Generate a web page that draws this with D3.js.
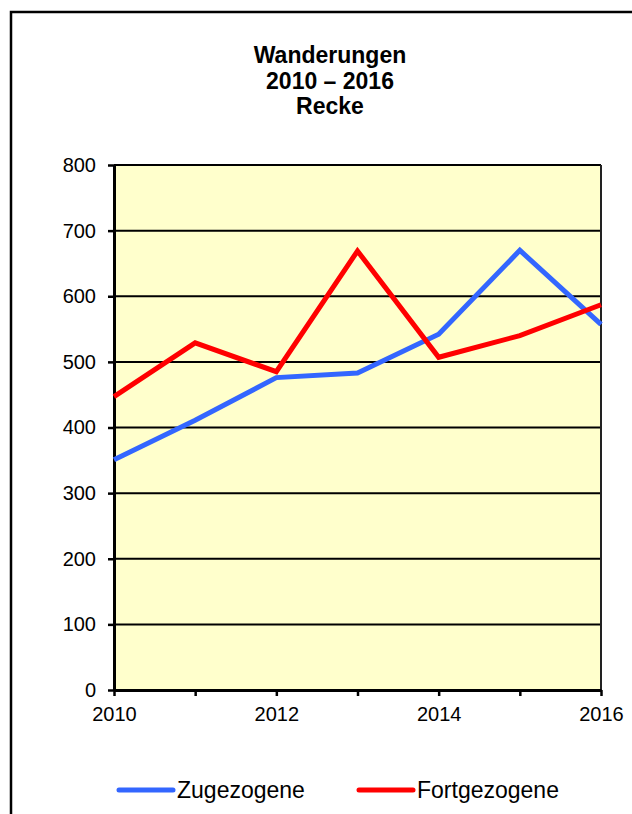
<!DOCTYPE html>
<html>
<head>
<meta charset="utf-8">
<script src="https://d3js.org/d3.v7.min.js"></script>
<style>
  body { margin: 0; background: #fff; }
  svg { display: block; font-family: Arial, "Liberation Sans", sans-serif; }
</style>
</head>
<body>
<svg id="chart" width="632" height="814"></svg>
<script>
    var years = [2010, 2011, 2012, 2013, 2014, 2015, 2016];
    var zugezogene = [351, 411, 476, 483, 542, 670, 557];
    var fortgezogene = [447, 529, 485, 669, 507, 540, 587];
    var yTicks = [0, 100, 200, 300, 400, 500, 600, 700, 800];
    var xLabels = [2010, 2012, 2014, 2016];
    var titleLines = ["Wanderungen", "2010 \u2013 2016", "Recke"];
    var seriesNames = ["Zugezogene", "Fortgezogene"];
    var seriesColors = ["#3366ff", "#ff0000"];

    var svg = d3.select("#chart");

    var plotLeft = 114, plotRight = 601, plotTop = 165, plotBottom = 690;

    var x = d3.scaleLinear().domain([2010, 2016]).range([plotLeft, plotRight]);
    var y = d3.scaleLinear().domain([0, 800]).range([plotBottom, plotTop]);

    // outer frame (runs off the picture at right and bottom)
    svg.append("rect")
      .attr("x", 11).attr("y", 12)
      .attr("width", 700).attr("height", 900)
      .attr("fill", "none")
      .attr("stroke", "#000")
      .attr("stroke-width", 2.5);

    // title
    svg.append("text")
      .attr("text-anchor", "middle")
      .attr("font-weight", "bold")
      .attr("font-size", 23)
      .selectAll("tspan")
      .data(titleLines)
      .enter().append("tspan")
      .attr("x", 330)
      .attr("y", function(d, i) { return 63 + i * 25.5; })
      .text(function(d) { return d; });

    // plot area
    svg.append("rect")
      .attr("x", plotLeft).attr("y", plotTop)
      .attr("width", plotRight - plotLeft).attr("height", plotBottom - plotTop)
      .attr("fill", "#ffffcc");

    // gridlines
    svg.append("g")
      .selectAll("line")
      .data(yTicks.slice(1))
      .enter().append("line")
      .attr("x1", plotLeft).attr("x2", plotRight)
      .attr("y1", function(d) { return y(d); })
      .attr("y2", function(d) { return y(d); })
      .attr("stroke", "#000")
      .attr("stroke-width", 2);

    // right edge of plot
    svg.append("line")
      .attr("x1", plotRight).attr("x2", plotRight)
      .attr("y1", plotTop).attr("y2", plotBottom)
      .attr("stroke", "#222")
      .attr("stroke-width", 2);

    // y axis
    var yAxis = svg.append("g")
      .attr("transform", "translate(" + plotLeft + ",0)")
      .call(d3.axisLeft(y).tickValues(yTicks).tickSize(6).tickSizeOuter(0).tickPadding(12));
    yAxis.select(".domain").attr("stroke-width", 3).attr("stroke", "#000");
    yAxis.selectAll(".tick line").attr("stroke-width", 2.5).attr("stroke", "#000");
    yAxis.selectAll(".tick text")
      .attr("font-size", 20)
      .attr("font-family", "Arial, 'Liberation Sans', sans-serif")
      .attr("fill", "#000");

    // x axis
    var xAxis = svg.append("g")
      .attr("transform", "translate(0," + plotBottom + ")")
      .call(d3.axisBottom(x).tickValues(years).tickSize(6).tickSizeOuter(0).tickPadding(11)
        .tickFormat(function(d) { return xLabels.indexOf(d) >= 0 ? d : ""; }));
    xAxis.select(".domain").attr("stroke-width", 3).attr("stroke", "#000");
    xAxis.selectAll(".tick line").attr("stroke-width", 2.5).attr("stroke", "#000");
    xAxis.selectAll(".tick text")
      .attr("font-size", 20)
      .attr("font-family", "Arial, 'Liberation Sans', sans-serif")
      .attr("fill", "#000");

    // series lines
    var line = d3.line()
      .x(function(d, i) { return x(years[i]); })
      .y(function(d) { return y(d); });

    [zugezogene, fortgezogene].forEach(function(values, i) {
      svg.append("path")
        .datum(values)
        .attr("d", line)
        .attr("fill", "none")
        .attr("stroke", seriesColors[i])
        .attr("stroke-width", 5)
        .attr("stroke-linejoin", "miter");
    });

    // legend
    var legendX = [119, 359];
    var legend = svg.append("g")
      .selectAll("g")
      .data(seriesNames)
      .enter().append("g")
      .attr("transform", function(d, i) { return "translate(" + legendX[i] + ",790)"; });
    legend.append("line")
      .attr("x1", 0).attr("x2", 54)
      .attr("stroke", function(d, i) { return seriesColors[i]; })
      .attr("stroke-width", 5)
      .attr("stroke-linecap", "round");
    legend.append("text")
      .attr("x", 58)
      .attr("y", 8)
      .attr("font-size", 23)
      .text(function(d) { return d; });
</script>
</body>
</html>
